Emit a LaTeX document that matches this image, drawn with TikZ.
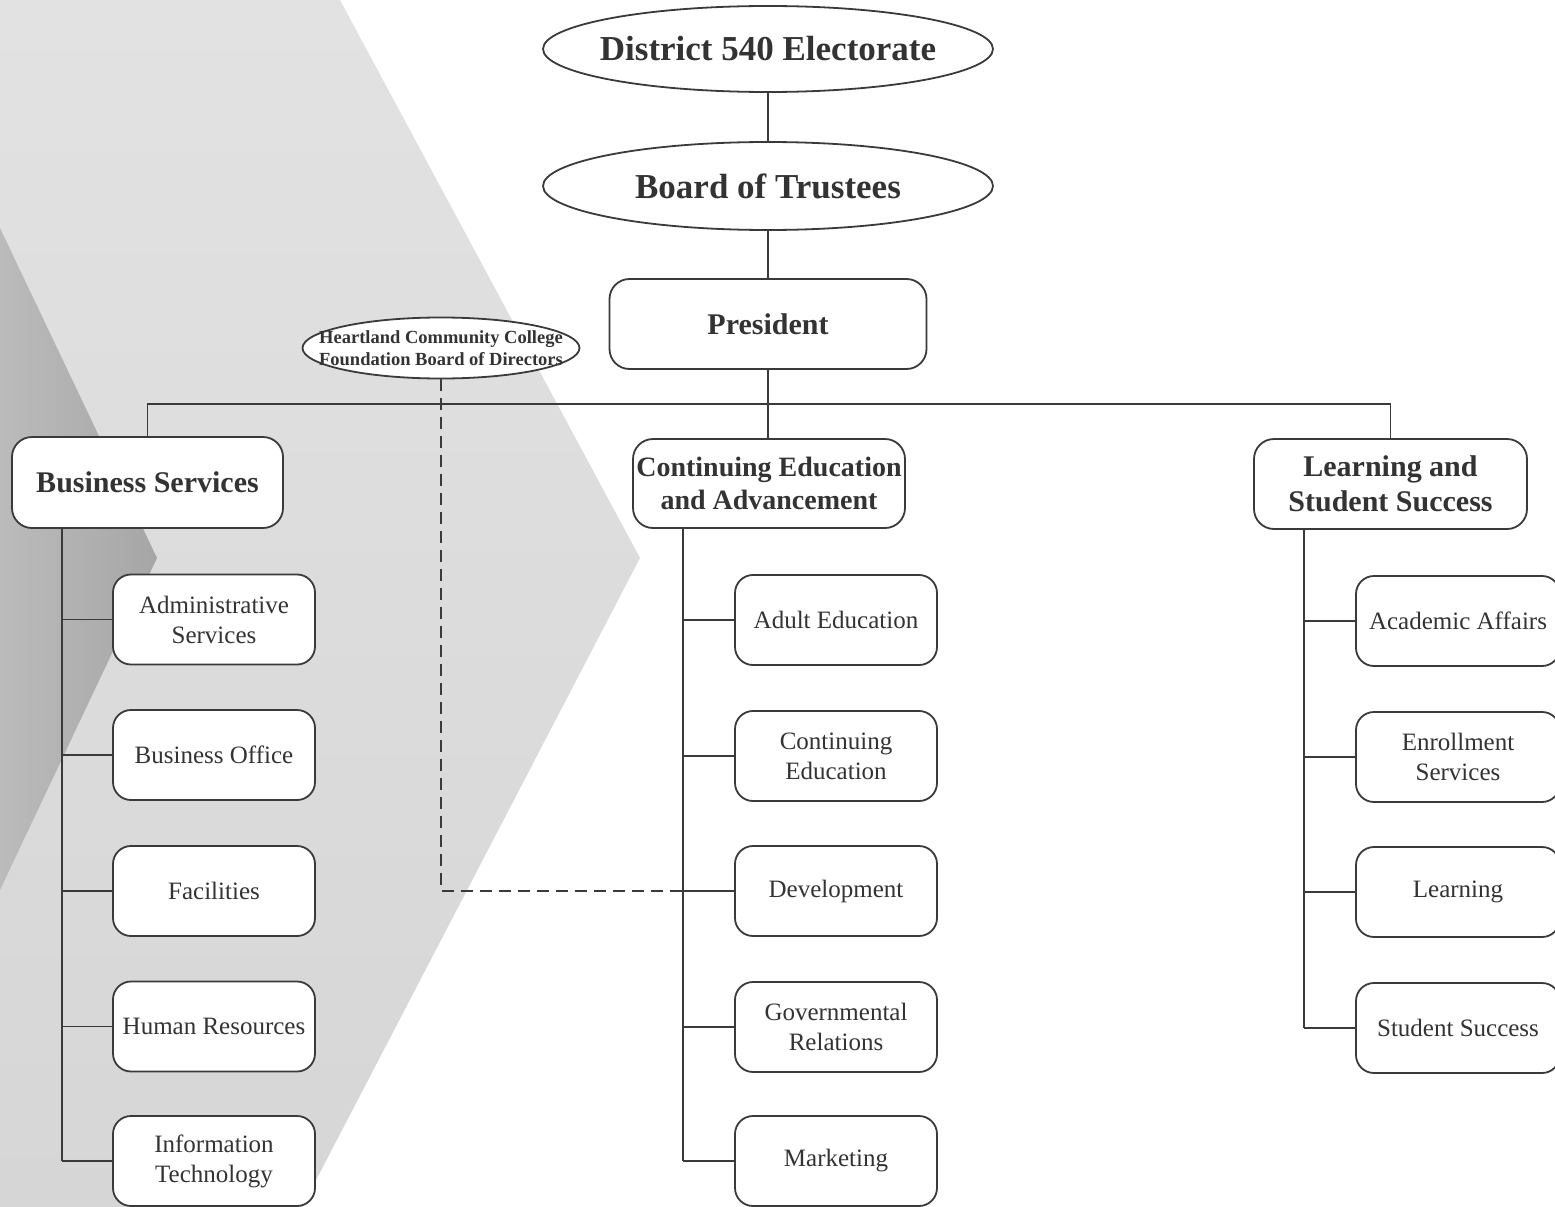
\documentclass[tikz,border=0pt]{standalone}
\usepackage{fontspec}
\setmainfont{Liberation Serif}
\usetikzlibrary{shapes.geometric}
\definecolor{ink}{HTML}{333333}
\definecolor{lineC}{HTML}{3A3A3A}
\definecolor{bgLightTop}{HTML}{E2E2E2}
\definecolor{bgLightBot}{HTML}{D6D6D6}
\definecolor{bgDarkL}{HTML}{BBBBBB}
\definecolor{bgDarkR}{HTML}{A6A6A6}
\begin{document}
\begin{tikzpicture}[x=1pt,y=-1pt,
  ovaltext/.style={rectangle, inner sep=0pt,
    minimum width=450pt, minimum height=86pt, text=ink,
    font=\fontsize{35}{40}\selectfont\bfseries},
  ovalline/.style={draw=lineC, line width=1.8pt, fill=white},
  headbox/.style={rectangle, rounded corners=20pt, draw=lineC, line width=1.8pt,
    fill=white, inner sep=0pt, align=center, text=ink,
    font=\fontsize{30}{35}\selectfont\bfseries},
  subbox/.style={rectangle, rounded corners=18pt, draw=lineC, line width=1.8pt,
    fill=white, minimum width=202pt, minimum height=90pt, inner sep=0pt,
    align=center, text=ink, font=\fontsize{25}{30}\selectfont},
  fndtext/.style={rectangle, inner sep=0pt, minimum width=277pt, minimum height=61pt,
    align=center, text=ink, font=\fontsize{18.5}{22}\selectfont\bfseries},
  link/.style={draw=lineC, line width=1.8pt},
  dashlink/.style={draw=lineC, line width=1.8pt, dash pattern=on 12pt off 7pt}
]
\useasboundingbox (0,0) rectangle (1555,1207);

% background chevrons
\shade[top color=bgLightTop, bottom color=bgLightBot]
  (0,0) -- (340,0) -- (640,558) -- (302,1207) -- (0,1207) -- cycle;
\shade[left color=bgDarkL, right color=bgDarkR]
  (0,228) -- (157,558) -- (0,890) -- cycle;

% top chain (ellipse outlines drawn around rectangular text nodes)
\draw[ovalline] (768,49) ellipse [x radius=225pt, y radius=43pt];
\node[ovaltext] (elect) at (768,49) {District 540 Electorate};
\draw[ovalline] (768,186) ellipse [x radius=225pt, y radius=44pt];
\node[ovaltext, minimum height=88pt] (board) at (768,186) {Board of Trustees};
\node[headbox, minimum width=317pt, minimum height=90pt] (pres) at (768,324) {President};

% foundation board
\draw[ovalline] (441,348) ellipse [x radius=138.5pt, y radius=30.5pt];
\node[fndtext] (hcc) at (441,348) {Heartland Community College\\Foundation Board of Directors};

% division heads
\node[headbox, minimum width=271pt, minimum height=91pt] (bs) at (147.5,482.5) {Business Services};
\node[headbox, minimum width=272pt, minimum height=89pt,
      font=\fontsize{28}{33}\selectfont\bfseries] (cea) at (769,483.5) {Continuing Education\\and Advancement};
\node[headbox, minimum width=273pt, minimum height=90pt] (lss) at (1390.5,484) {Learning and\\Student Success};

% left column
\node[subbox] (as) at (214,619.5) {Administrative\\Services};
\node[subbox] (bo) at (214,755) {Business Office};
\node[subbox] (fac) at (214,891) {Facilities};
\node[subbox] (hr) at (214,1026.5) {Human Resources};
\node[subbox] (it) at (214,1161) {Information\\Technology};

% middle column
\node[subbox] (ae) at (836,620) {Adult Education};
\node[subbox] (ce) at (836,756) {Continuing\\Education};
\node[subbox] (dev) at (836,891) {Development};
\node[subbox] (gr) at (836,1027) {Governmental\\Relations};
\node[subbox] (mk) at (836,1161) {Marketing};

% right column
\node[subbox, minimum width=204pt] (aa) at (1458,621) {Academic Affairs};
\node[subbox, minimum width=204pt] (es) at (1458,757) {Enrollment\\Services};
\node[subbox, minimum width=204pt] (lr) at (1458,892) {Learning};
\node[subbox, minimum width=204pt] (ss) at (1458,1028) {Student Success};

% spine coordinates
\coordinate (bus) at (768,404);
\coordinate (lsp) at (62,0);
\coordinate (msp) at (683,0);
\coordinate (rsp) at (1304,0);

% connectors: top chain
\draw[link] (elect.south) -- (board.north);
\draw[link] (board.south) -- (pres.north);
\draw[link] (pres.south) -- (pres.south |- cea.north);
\draw[link] (bs.north) -- (bs.north |- bus) -- (lss.north |- bus) -- (lss.north);

% dashed foundation link
\draw[dashlink] (hcc.south) |- (msp |- dev.west);

% left spine
\draw[link] (lsp |- bs.south) -- (lsp |- it.west);
\foreach \n in {as,bo,fac,hr,it} \draw[link] (lsp |- \n.west) -- (\n.west);
% middle spine
\draw[link] (msp |- cea.south) -- (msp |- mk.west);
\foreach \n in {ae,ce,dev,gr,mk} \draw[link] (msp |- \n.west) -- (\n.west);
% right spine
\draw[link] (rsp |- lss.south) -- (rsp |- ss.west);
\foreach \n in {aa,es,lr,ss} \draw[link] (rsp |- \n.west) -- (\n.west);
\end{tikzpicture}
\end{document}
